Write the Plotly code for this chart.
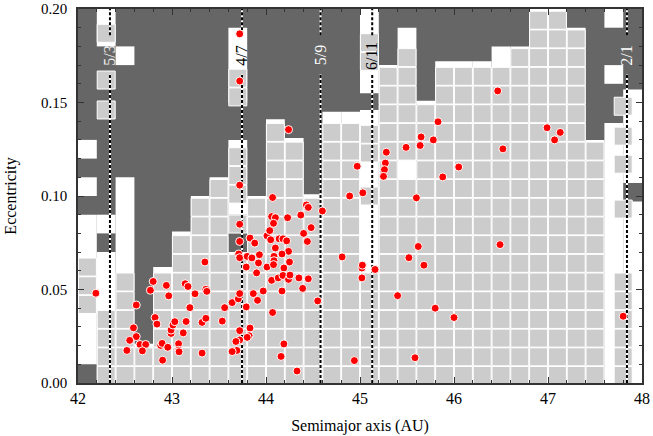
import plotly.graph_objects as go

# Mean-motion resonances (semimajor axis, label)
RES_A = [42.34, 43.745, 44.58, 45.13, 47.84]
RES_NAME = ["5/3", "4/7", "5/9", "6/11", "2/1"]
RES_TEXT_COLOR = ["#eeeeee", "black", "white", "black", "white"]

# White region: column centre, lower / upper eccentricity
WHITE_A = [42.1, 42.1, 42.1, 42.3, 42.3, 42.3, 42.5, 42.5, 42.7, 42.9, 43.1, 43.3, 43.5,
           43.7, 43.7, 43.7, 43.9, 44.1, 44.3, 44.5, 44.7, 44.9, 45.1, 45.1, 45.3, 45.5,
           45.7, 45.9, 46.1, 46.3, 46.5, 46.7, 46.9, 47.1, 47.3, 47.5, 47.7, 47.7, 47.7,
           47.9, 47.9]
WHITE_LO = [0.01, 0.10, 0.12, 0.0, 0.08, 0.18, 0.0, 0.17, 0.0, 0.0, 0.0, 0.0, 0.0,
            0.0, 0.09, 0.15, 0.0, 0.0, 0.0, 0.0, 0.0, 0.0, 0.0, 0.155, 0.0, 0.0,
            0.0, 0.0, 0.0, 0.0, 0.0, 0.0, 0.0, 0.0, 0.0, 0.0, 0.0, 0.16, 0.19,
            0.0, 0.107]
WHITE_HI = [0.09, 0.11, 0.13, 0.07, 0.09, 0.20, 0.11, 0.18, 0.021, 0.062, 0.081, 0.10, 0.11,
            0.07, 0.13, 0.19, 0.10, 0.141, 0.131, 0.101, 0.145, 0.145, 0.146, 0.20, 0.17, 0.19,
            0.151, 0.172, 0.172, 0.172, 0.18, 0.18, 0.20, 0.20, 0.19, 0.13, 0.139, 0.17, 0.20,
            0.097, 0.157]

# Stable cells (light gray): column centre, stack from lower to upper eccentricity
GRAY_A = [42.1, 42.3, 42.3, 42.3, 42.3, 42.5, 42.7, 42.9, 43.1, 43.3, 43.5,
          43.7, 43.7, 43.7, 43.7, 43.9, 44.1, 44.3, 44.5, 44.7, 44.9,
          45.1, 45.1, 45.1, 45.1, 45.3, 45.5, 45.5, 45.7, 45.9, 46.1, 46.3, 46.5, 46.7,
          46.9, 47.1, 47.3, 47.5, 47.8, 47.8, 47.8, 47.8, 47.8]
GRAY_LO = [0.037, -0.001, 0.141, 0.157, 0.182, -0.001, -0.001, -0.001, -0.001, -0.001, -0.001,
           -0.001, 0.08, 0.096, 0.148, -0.001, -0.001, -0.001, -0.001, -0.001, -0.001,
           -0.001, 0.095, 0.118, 0.167, -0.001, -0.001, 0.119, -0.001, -0.001, -0.001, -0.001, -0.001, -0.001,
           -0.001, -0.001, -0.001, -0.001, -0.001, 0.088, 0.112, 0.127, 0.143]
GRAY_HI = [0.067, 0.039, 0.151, 0.167, 0.192, 0.059, 0.019, 0.059, 0.079, 0.099, 0.109,
           0.069, 0.09, 0.124, 0.168, 0.099, 0.139, 0.129, 0.099, 0.139, 0.139,
           0.059, 0.105, 0.138, 0.187, 0.169, 0.109, 0.179, 0.149, 0.169, 0.169, 0.169, 0.169, 0.179,
           0.199, 0.199, 0.189, 0.129, 0.059, 0.098, 0.122, 0.137, 0.153]

# Observed objects
OBJ_A = [42.19, 42.62, 42.77, 42.80, 42.94, 42.965, 42.82, 42.84, 42.59, 42.62, 42.55, 42.52,
         42.66, 42.72, 42.685, 42.88, 42.895, 42.955, 42.90, 42.99, 42.99, 43.01, 43.03, 43.07,
         43.07, 43.075, 43.15, 43.12, 43.14, 43.17, 43.19, 43.245, 43.32, 43.36, 43.35, 43.36,
         43.37, 43.32, 43.56, 43.535, 43.64, 43.705, 43.72, 43.72, 43.72, 43.71, 43.72, 43.72,
         43.72, 43.72, 43.72, 43.72, 43.68, 43.69, 43.64, 43.79, 43.83, 43.88, 43.80, 43.85,
         43.93, 43.92, 43.90, 43.865, 43.91, 43.79, 43.83, 43.82, 43.80, 43.97, 44.01, 44.01,
         44.24, 44.07, 44.43, 44.45, 44.60, 44.37, 44.23, 44.06, 44.10, 44.08, 44.04, 44.05,
         44.14, 44.18, 44.22, 44.40, 44.48, 44.44, 44.10, 44.24, 44.17, 44.085, 44.085, 44.08,
         44.25, 44.19, 44.06, 44.13, 44.18, 44.24, 44.255, 44.35, 44.45, 44.39, 44.17, 44.55,
         44.07, 44.19, 44.16, 44.33, 44.89, 44.97, 45.03, 44.81, 45.02, 45.025, 45.02, 44.94,
         45.16, 45.28, 45.27, 45.26, 45.25, 45.49, 45.65, 45.64, 45.78, 45.83, 46.05, 45.88,
         45.60, 46.465, 46.52, 45.62, 45.52, 45.68, 46.49, 45.40, 45.80, 46.00, 45.585,
         46.99, 47.13, 47.07, 47.80]
OBJ_E = [0.048, 0.0417, 0.0496, 0.0543, 0.0522, 0.0466, 0.035, 0.0315, 0.0295, 0.0248, 0.0228, 0.0174,
         0.0206, 0.0206, 0.0172, 0.0201, 0.0212, 0.0191, 0.0122, 0.0265, 0.0283, 0.031, 0.0328, 0.021,
         0.0175, 0.0167, 0.0329, 0.0268, 0.0531, 0.0516, 0.0403, 0.0477, 0.0324, 0.0346, 0.0647, 0.0501,
         0.049, 0.016, 0.0403, 0.0331, 0.043, 0.045, 0.0478, 0.0849, 0.0757, 0.069, 0.067, 0.1867,
         0.1615, 0.1058, 0.028, 0.023, 0.0222, 0.0174, 0.0168, 0.062, 0.0775, 0.0748, 0.0677, 0.0669,
         0.0686, 0.0642, 0.0589, 0.0478, 0.0442, 0.0407, 0.0294, 0.0253, 0.0244, 0.0492, 0.0787, 0.062,
         0.1355, 0.0992, 0.0952, 0.0939, 0.092, 0.0898, 0.0884, 0.089, 0.0884, 0.0854, 0.0815, 0.0766,
         0.0771, 0.0771, 0.076, 0.080, 0.0831, 0.0757, 0.0722, 0.0704, 0.069, 0.0677, 0.0654, 0.0633,
         0.0647, 0.0615, 0.0549, 0.0562, 0.0575, 0.0554, 0.0577, 0.0562, 0.0557, 0.0506, 0.0492, 0.0439,
         0.0377, 0.0209, 0.0142, 0.0064, 0.100, 0.1159, 0.1017, 0.0674, 0.0615, 0.063, 0.0562, 0.012,
         0.0607, 0.1234, 0.1176, 0.1141, 0.1105, 0.126, 0.1316, 0.127, 0.130, 0.1397, 0.1155, 0.1102,
         0.099, 0.1562, 0.1252, 0.073, 0.067, 0.063, 0.074, 0.0467, 0.040, 0.035, 0.0135,
         0.1365, 0.134, 0.130, 0.0357]

X_TICKS = [42, 43, 44, 45, 46, 47, 48]
Y_TICKS = [0.0, 0.05, 0.10, 0.15, 0.20]

SERIF = "Liberation Serif, Times New Roman, serif"
DARK = "#666666"
LABEL_E = 0.175
GAP = (0.165, 0.186)

# expand gray stacks into individual cells
cell_a, cell_e = [], []
for a, lo, hi in zip(GRAY_A, GRAY_LO, GRAY_HI):
    e = lo + 0.005
    while e < hi:
        cell_a.append(a)
        cell_e.append(e)
        e += 0.01

fig = go.Figure()

fig.add_trace(go.Bar(
    x=WHITE_A, base=WHITE_LO, y=[h - l for l, h in zip(WHITE_LO, WHITE_HI)],
    width=0.2, marker=dict(color="white", line=dict(width=0)), hoverinfo="skip"))

fig.add_trace(go.Scatter(
    x=cell_a, y=cell_e, mode="markers",
    marker=dict(symbol="square", size=18, color="#cccccc",
                line=dict(color="white", width=1)),
    hoverinfo="skip"))

for a, name, col in zip(RES_A, RES_NAME, RES_TEXT_COLOR):
    xs = [a, a, None, a, a]
    ys = [0, GAP[0], None, GAP[1], 0.2]
    fig.add_trace(go.Scatter(x=xs, y=ys, mode="lines",
                             line=dict(color="white", width=2), hoverinfo="skip"))
    fig.add_trace(go.Scatter(x=xs, y=ys, mode="lines",
                             line=dict(color="black", width=2, dash="3px,2px"),
                             hoverinfo="skip"))
    fig.add_annotation(x=a, y=LABEL_E, text=name, textangle=-90, showarrow=False,
                       font=dict(family=SERIF, size=16, color=col))

fig.add_trace(go.Scatter(
    x=OBJ_A, y=OBJ_E, mode="markers",
    marker=dict(size=8, color="#ff0000", line=dict(color="white", width=1))))

axis_common = dict(
    showline=True, linecolor="#333333", linewidth=1.5, mirror="allticks",
    ticks="inside", ticklen=6, tickcolor="#333333", showgrid=False, zeroline=False,
    automargin=False, ticklabeloverflow="allow",
)
fig.update_xaxes(range=[42, 48], tickvals=X_TICKS, ticktext=[str(v) for v in X_TICKS],
                 tickfont=dict(family=SERIF, size=16, color="black"),
                 minor=dict(dtick=0.2, tick0=42, ticks="inside", ticklen=3, tickcolor="#333333"),
                 title=dict(text="Semimajor axis (AU)", font=dict(family=SERIF, size=16, color="black"),
                            standoff=14),
                 **axis_common)
fig.update_yaxes(range=[0, 0.2], tickvals=Y_TICKS, ticktext=["%.2f" % v for v in Y_TICKS],
                 tickfont=dict(family=SERIF, size=15, color="black"), ticklabelstandoff=6,
                 minor=dict(dtick=0.01, tick0=0, ticks="inside", ticklen=3, tickcolor="#333333"),
                 title=dict(text="Eccentricity", font=dict(family=SERIF, size=16, color="black"),
                            standoff=20),
                 **axis_common)

fig.update_layout(
    width=653, height=436, showlegend=False, barmode="overlay",
    plot_bgcolor=DARK, paper_bgcolor="white",
    margin=dict(l=78, r=11, t=9, b=53),
)

fig.write_html("out.html", config={"displayModeBar": False},
               post_script="document.body.style.margin='0px';")
